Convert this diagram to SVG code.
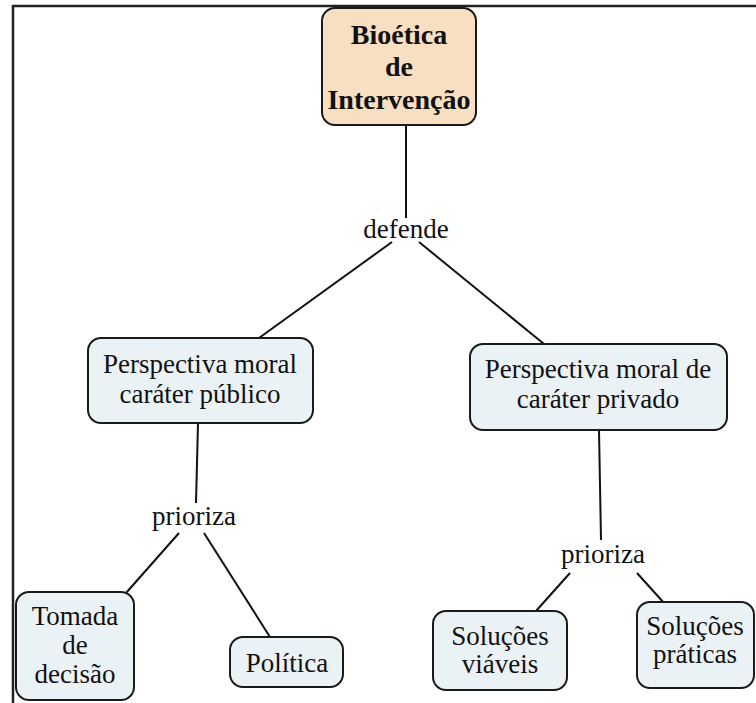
<svg xmlns="http://www.w3.org/2000/svg" width="756" height="703" viewBox="0 0 756 703">
<style>
.node{fill:#ebf2f6;stroke:#1a1a1a;stroke-width:2}
.root{fill:#f9dfc1;stroke:#1a1a1a;stroke-width:2}
.t{font-family:"Liberation Serif","Times New Roman",serif;font-size:27px;fill:#111;text-anchor:middle}
.b{font-weight:bold;font-size:28px}
.c{stroke:#111;stroke-width:2;fill:none}
.frame{stroke:#222;stroke-width:2.5;fill:none}
</style>
<rect width="756" height="703" fill="#fff"/>
<path class="frame" d="M756,6 H13 V703"/>
<g id="connectors">
<line class="c" x1="406" y1="125" x2="406" y2="218"/>
<line class="c" x1="392" y1="242" x2="259" y2="338"/>
<line class="c" x1="419" y1="242" x2="544" y2="344"/>
<line class="c" x1="198" y1="423" x2="196" y2="503"/>
<line class="c" x1="179" y1="533" x2="126" y2="593"/>
<line class="c" x1="204" y1="533" x2="270" y2="637"/>
<line class="c" x1="599" y1="430" x2="601" y2="540"/>
<line class="c" x1="570" y1="573" x2="536" y2="611"/>
<line class="c" x1="637" y1="573" x2="664" y2="603"/>
</g>
<g id="bioetica">
<rect class="root" x="322" y="8" width="154" height="117" rx="13"/>
<text class="t b" x="399" y="44">Bioética</text>
<text class="t b" x="399" y="76">de</text>
<text class="t b" x="399" y="109">Intervenção</text>
</g>
<g id="defende"><text class="t" x="406" y="238">defende</text></g>
<g id="perspectiva-publico">
<rect class="node" x="88" y="338" width="225" height="85" rx="13"/>
<text class="t" x="200" y="373">Perspectiva moral</text>
<text class="t" x="200" y="403">caráter público</text>
</g>
<g id="perspectiva-privado">
<rect class="node" x="470" y="344" width="257" height="86" rx="13"/>
<text class="t" x="598" y="378">Perspectiva moral de</text>
<text class="t" x="598" y="408">caráter privado</text>
</g>
<g id="prioriza-1"><text class="t" x="194" y="525">prioriza</text></g>
<g id="prioriza-2"><text class="t" x="603" y="563">prioriza</text></g>
<g id="tomada">
<rect class="node" x="16" y="592" width="118" height="108" rx="13"/>
<text class="t" x="75" y="625">Tomada</text>
<text class="t" x="75" y="654">de</text>
<text class="t" x="75" y="683">decisão</text>
</g>
<g id="politica">
<rect class="node" x="230" y="637" width="113" height="50" rx="13"/>
<text class="t" x="287" y="672">Política</text>
</g>
<g id="solucoes-viaveis">
<rect class="node" x="433" y="611" width="134" height="79" rx="13"/>
<text class="t" x="500" y="645">Soluções</text>
<text class="t" x="500" y="673">viáveis</text>
</g>
<g id="solucoes-praticas">
<rect class="node" x="637" y="602" width="117" height="86" rx="13"/>
<text class="t" x="695" y="635">Soluções</text>
<text class="t" x="695" y="663">práticas</text>
</g>
</svg>
